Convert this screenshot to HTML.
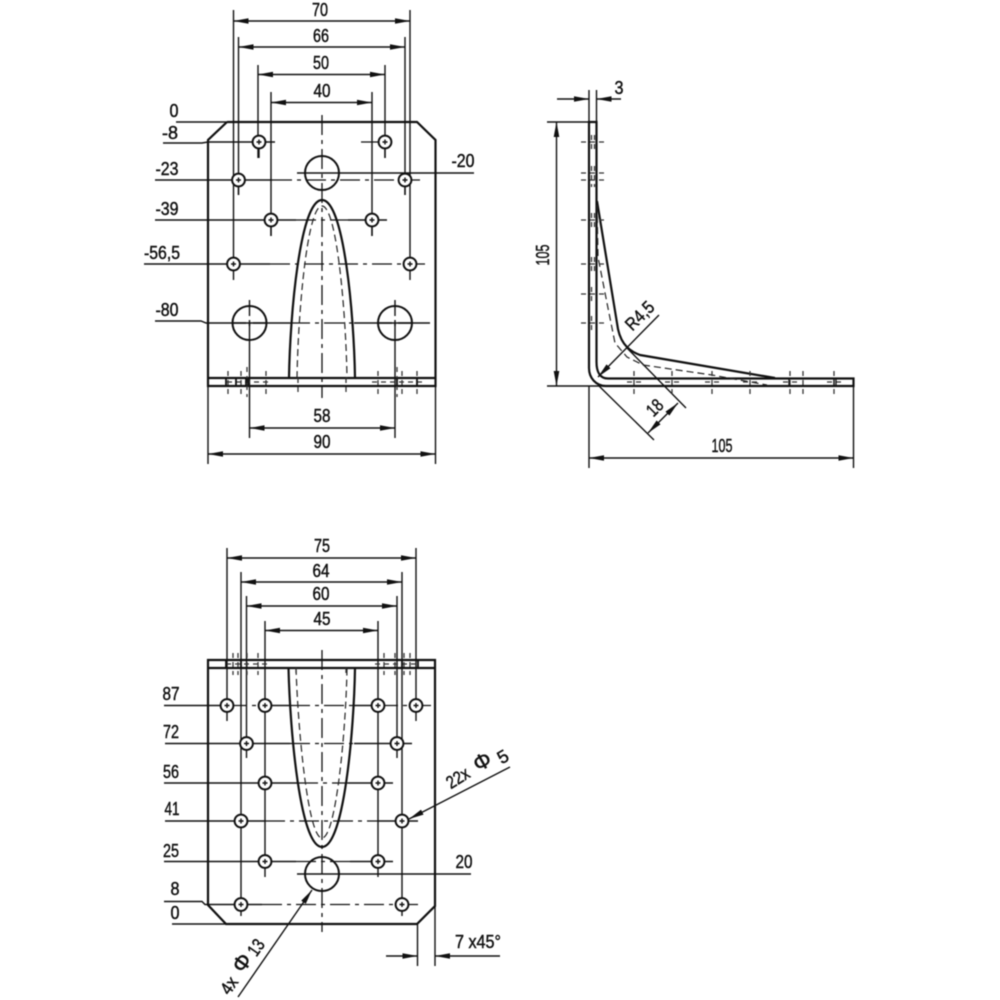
<!DOCTYPE html>
<html><head><meta charset="utf-8">
<style>
html,body{margin:0;padding:0;background:#fff;width:1000px;height:1000px;overflow:hidden}
svg{display:block;filter:blur(.4px)}
text{font-family:"Liberation Sans",sans-serif;font-size:18px;fill:#111;stroke:#111;stroke-width:.45;text-anchor:middle}
.m{fill:none;stroke:#111;stroke-width:2.2}
.t{fill:none;stroke:#111;stroke-width:1.4}
.c{fill:none;stroke:#111;stroke-width:1.3;stroke-dasharray:20 5 4 5}
.d{fill:none;stroke:#222;stroke-width:1.2;stroke-dasharray:7 4}
.k{fill:none;stroke:#333;stroke-width:1.3;stroke-dasharray:5 4}
.h{fill:#fff;stroke:#111;stroke-width:2}
.o{fill:none;stroke:#111;stroke-width:2}
</style></head><body>
<svg width="1000" height="1000" viewBox="0 0 1000 1000" xmlns="http://www.w3.org/2000/svg">
<defs>
<marker id="a" markerUnits="userSpaceOnUse" markerWidth="16" markerHeight="6" refX="15" refY="3" orient="auto-start-reverse"><path d="M0 .2L15 3L0 5.800Z" fill="#111"/></marker>
<g id="s"><circle r="6.400" class="h"/><path d="M-2.500 0H2.500M0-2.500V2.500" class="t"/></g>
</defs>

<!-- VIEW 1 -->
<g class="t">
<path d="M233.500 10V264M410 10V264M238.500 37V195M405 37V195M258 65V158M385 65V158M271 92V236M372 92V236"/>
<path d="M176 122H227M163 143H202L208 142H275M155 180H272M155 220H296M348 220H387M144 264H270M155 321H201L206 323H290M354 323H430M297 173H474"/>
<path d="M249.500 323V438M395 323V438M208 386V464M435.500 386V464"/>
<path d="M233.500 21H410" marker-start="url(#a)" marker-end="url(#a)"/>
<path d="M238.500 47H405" marker-start="url(#a)" marker-end="url(#a)"/>
<path d="M258 74.500H385" marker-start="url(#a)" marker-end="url(#a)"/>
<path d="M271 102.500H372" marker-start="url(#a)" marker-end="url(#a)"/>
<path d="M249.500 428H395" marker-start="url(#a)" marker-end="url(#a)"/>
<path d="M208 454H435.500" marker-start="url(#a)" marker-end="url(#a)"/>
</g>
<path d="M322 115V398M272 180H420M296 220H348M270 264H425M290 323H354M361 142H378" class="c"/>
<path d="M227 122H417L435.500 140V378M227 122L208 140V378M208 378H435.500V386H208Z" class="m"/>
<path d="M289 378C290 315 300 200 322 200C344 200 354 315 355 378" class="m"/>
<path d="M297 378C298 315 307 206 322 206C337 206 346 315 347 378" class="d"/>
<path d="M228 371V394M241 371V394M247 367V397M266 371V394M298 378V394M346 378V394M378 371V394M397 367V397M402 371V394M417 371V394" class="k"/>
<path d="M227 382H272M372 382H422" class="k" stroke-width="1"/>
<path d="M226 378V386M236 378V386M246 378V386M248 378V386M397 378V386M417 378V386" stroke="#111" stroke-width="1.800"/>
<circle cx="322" cy="173" r="17" class="o"/>
<use href="#s" x="259" y="142"/><use href="#s" x="385" y="142"/>
<use href="#s" x="238.500" y="180"/><use href="#s" x="405" y="180"/>
<use href="#s" x="271" y="220"/><use href="#s" x="372" y="220"/>
<use href="#s" x="233.500" y="264"/><use href="#s" x="410" y="264"/>
<path d="M259 148V158M385 148V158M238.500 186V195M405 186V195M271 226V236M372 226V236M233.500 270V280M410 270V280" class="t"/>
<circle cx="249.500" cy="323" r="17" class="o"/><circle cx="395" cy="323" r="17" class="o"/>
<path d="M249.500 300V316M249.500 320V326M233 323H246M253 323H266M395 300V316M395 320V326M379 323H392M398 323H411" class="t"/>
<text x="320" y="16" textLength="16" lengthAdjust="spacingAndGlyphs">70</text>
<text x="321" y="42" textLength="16" lengthAdjust="spacingAndGlyphs">66</text>
<text x="321" y="69" textLength="16" lengthAdjust="spacingAndGlyphs">50</text>
<text x="322" y="97" textLength="17" lengthAdjust="spacingAndGlyphs">40</text>
<text x="174" y="117" textLength="9" lengthAdjust="spacingAndGlyphs">0</text>
<text x="170" y="139" textLength="16" lengthAdjust="spacingAndGlyphs">-8</text>
<text x="167" y="175" textLength="23" lengthAdjust="spacingAndGlyphs">-23</text>
<text x="167" y="215" textLength="23" lengthAdjust="spacingAndGlyphs">-39</text>
<text x="162" y="259" textLength="36" lengthAdjust="spacingAndGlyphs">-56,5</text>
<text x="167" y="316" textLength="23" lengthAdjust="spacingAndGlyphs">-80</text>
<text x="463" y="167" textLength="23" lengthAdjust="spacingAndGlyphs">-20</text>
<text x="322" y="422" textLength="17" lengthAdjust="spacingAndGlyphs">58</text>
<text x="322" y="448" textLength="17" lengthAdjust="spacingAndGlyphs">90</text>

<!-- VIEW 2 -->
<g class="t">
<path d="M589 90V122M596.500 90V122M547 122H596M547 386H853M589 386V468M853.500 386V468"/>
<path d="M557 99H589" marker-end="url(#a)"/><path d="M621 99H596.500" marker-end="url(#a)"/>
<path d="M556.500 122V386" marker-start="url(#a)" marker-end="url(#a)"/>
<path d="M589 458H853.500" marker-start="url(#a)" marker-end="url(#a)"/>
<path d="M659 315L598 377" marker-end="url(#a)"/>
<path d="M627 348L686 408M598 385L654 440"/>
<path d="M648 433L678 403" marker-start="url(#a)" marker-end="url(#a)"/>
</g>
<path d="M589 122H596.500V362C596.500 372 600 378.500 608 378.500H853.500V386H606C596 386 589 378 589 368Z" class="m"/>
<path d="M597 201L617 323C619 340 626 350 640 355L775 378" class="m"/>
<path d="M597 205L598 257L607 303L615 343L627 357L643 365L712 375L767 385" class="d"/>
<path d="M581 142H604M581 173H604M581 180H604M581 220H604M581 264H604M581 294H604M581 323H604" class="k"/>
<path d="M591.500 135V149M591.500 166V187M591.500 213V227M591.500 257V271M591.500 287V301M591.500 316V330M594.500 135V149M594.500 166V187M594.500 213V227M594.500 257V271" class="k" stroke-width=".9" stroke-dasharray="3 3"/>
<path d="M634 371V394M672 371V394M712 371V394M750 371V394M790 371V394M803 371V394M834 371V394" class="k"/>
<path d="M627 382H641M665 382H679M705 382H719M743 382H757M783 382H797M827 382H841" class="k" stroke-width=".9" stroke-dasharray="3 3"/>
<path d="M834 378V386M836 378V386M789 378V386" stroke="#111" stroke-width="1.300"/>
<text x="619" y="94" textLength="9" lengthAdjust="spacingAndGlyphs">3</text>
<text transform="translate(549,255) rotate(-90)" textLength="21" lengthAdjust="spacingAndGlyphs">105</text>
<text x="722" y="452" textLength="21" lengthAdjust="spacingAndGlyphs">105</text>
<text transform="translate(644,320) rotate(-45)" textLength="33" lengthAdjust="spacingAndGlyphs">R4,5</text>
<text transform="translate(659,412) rotate(-45)" textLength="16" lengthAdjust="spacingAndGlyphs">18</text>

<!-- VIEW 3 -->
<g class="t">
<path d="M227 548V705M416 548V705M241 572V821M402 572V821M246.500 596V743M397 596V743M265 621V861M378 621V861"/>
<path d="M241 821V916M402 821V916M265 861V877M378 861V877M227 705V721M416 705V721M246.500 743V758M397 743V758"/>
<path d="M227 558H416" marker-start="url(#a)" marker-end="url(#a)"/>
<path d="M241 582H402" marker-start="url(#a)" marker-end="url(#a)"/>
<path d="M246.500 606H397" marker-start="url(#a)" marker-end="url(#a)"/>
<path d="M265 630.500H378" marker-start="url(#a)" marker-end="url(#a)"/>
<path d="M164 705.500H227M265 705.500H290M354 705.500H378M165 743.500H290M354 743.500H412M164 783H298M348 783H393M165 821H265M378 821H418M164 861.500H296M350 861.500H393M164 901.500H202L205 904.500H262M297 874H471M172 924H226"/>
<path d="M417.500 924V966M435 905V966"/>
<path d="M386 956H417.500" marker-end="url(#a)"/><path d="M500 956H435" marker-end="url(#a)"/>
<path d="M510 767L409 819" marker-end="url(#a)"/>
<path d="M238 997L312 890" marker-end="url(#a)"/>
</g>
<path d="M322 650V932M227 705.500H265M290 705.500H354M378 705.500H431M290 743.500H354M298 783H348M265 821H378M296 861.500H350M262 904.500H418" class="c"/>
<path d="M208 660H435V668H208ZM208 668V905L226 924H417L435 906V668" class="m"/>
<path d="M288.500 668C290 730 300 847 322 847C344 847 354 730 355 668" class="m"/>
<path d="M296 668C298 730 308 838 322 838C336 838 346 730 347 668" class="d"/>
<path d="M233 653V675M238 653V675M247 653V675M258 653V675M384 653V675M395 653V675M404 653V675M410 653V675M296 668V676M346 668V676" class="k"/>
<path d="M226 664H270M375 664H418" class="k" stroke-width="1"/>
<path d="M226 660V668M241 660V668M402 660V668M418 660V668" stroke="#111" stroke-width="1.800"/>
<use href="#s" x="227" y="705.500"/><use href="#s" x="265" y="705.500"/><use href="#s" x="378" y="705.500"/><use href="#s" x="416" y="705.500"/>
<use href="#s" x="246.500" y="743.500"/><use href="#s" x="397" y="743.500"/>
<use href="#s" x="265" y="783"/><use href="#s" x="378" y="783"/>
<use href="#s" x="241" y="821"/><use href="#s" x="402" y="821"/>
<use href="#s" x="265" y="861.500"/><use href="#s" x="378" y="861.500"/>
<use href="#s" x="241" y="904.500"/><use href="#s" x="402" y="904.500"/>
<circle cx="322" cy="874" r="17" class="o"/>
<text x="322" y="552" textLength="16" lengthAdjust="spacingAndGlyphs">75</text>
<text x="321" y="577" textLength="17" lengthAdjust="spacingAndGlyphs">64</text>
<text x="321" y="600" textLength="17" lengthAdjust="spacingAndGlyphs">60</text>
<text x="322" y="625" textLength="17" lengthAdjust="spacingAndGlyphs">45</text>
<text x="171" y="700" textLength="17" lengthAdjust="spacingAndGlyphs">87</text>
<text x="171" y="738" textLength="16" lengthAdjust="spacingAndGlyphs">72</text>
<text x="171" y="778" textLength="16" lengthAdjust="spacingAndGlyphs">56</text>
<text x="172" y="815" textLength="15" lengthAdjust="spacingAndGlyphs">41</text>
<text x="171" y="857" textLength="16" lengthAdjust="spacingAndGlyphs">25</text>
<text x="175" y="895" textLength="9" lengthAdjust="spacingAndGlyphs">8</text>
<text x="175" y="919" textLength="9" lengthAdjust="spacingAndGlyphs">0</text>
<text x="464" y="868" textLength="17" lengthAdjust="spacingAndGlyphs">20</text>
<text x="478" y="948" textLength="46" lengthAdjust="spacingAndGlyphs">7 x45°</text>
<text transform="translate(461,783) rotate(-32)" textLength="24" lengthAdjust="spacingAndGlyphs">22x</text>
<text transform="translate(486,768) rotate(-30)" style="font-size:22px">Φ</text>
<text transform="translate(506,762) rotate(-30)">5</text>
<text transform="translate(234,989) rotate(-55)" textLength="17" lengthAdjust="spacingAndGlyphs">4x</text>
<text transform="translate(248,967) rotate(-55)" style="font-size:22px">Φ</text>
<text transform="translate(261,951) rotate(-55)" textLength="16" lengthAdjust="spacingAndGlyphs">13</text>
</svg>
</body></html>
